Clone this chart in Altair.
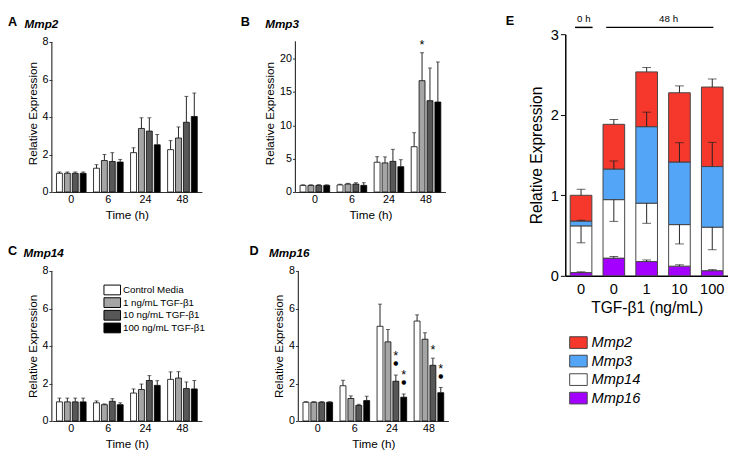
import altair as alt
import pandas as pd

FONT = "Liberation Sans"

# ---------------- Panels A-D : time course ----------------
times = ["0", "6", "24", "48"]
treatments = ["Control Media", "1 ng/mL TGF-β1", "10 ng/mL TGF-β1", "100 ng/mL TGF-β1"]
treatment_colors = ["#ffffff", "#a5a5a5", "#575757", "#000000"]

# rows = time points (0, 6, 24, 48 h); columns = treatments
mmp2_mean = [[1.00, 1.00, 1.00, 1.00], [1.27, 1.68, 1.63, 1.60], [2.10, 3.39, 3.25, 2.52], [2.26, 2.88, 3.72, 4.03]]
mmp2_sem = [[0.07, 0.07, 0.07, 0.07], [0.19, 0.32, 0.47, 0.14], [0.26, 0.57, 0.71, 0.55], [0.48, 0.59, 1.38, 1.25]]
mmp3_mean = [[1.00, 1.00, 1.00, 1.00], [1.07, 1.20, 1.20, 1.00], [4.47, 4.37, 4.60, 3.80], [6.80, 16.70, 13.70, 13.50]]
mmp3_sem = [[0.08, 0.08, 0.10, 0.08], [0.10, 0.10, 0.20, 0.40], [0.83, 0.90, 1.80, 1.05], [2.10, 4.20, 4.90, 6.00]]
mmp14_mean = [[1.02, 1.02, 1.02, 1.02], [0.97, 0.87, 1.05, 0.87], [1.49, 1.68, 2.16, 1.90], [2.22, 2.29, 1.73, 1.71]]
mmp14_sem = [[0.20, 0.20, 0.20, 0.20], [0.10, 0.04, 0.14, 0.10], [0.22, 0.29, 0.26, 0.25], [0.40, 0.34, 0.35, 0.45]]
mmp16_mean = [[1.00, 1.00, 1.00, 1.00], [1.88, 1.20, 0.83, 1.09], [5.05, 4.22, 2.12, 1.27], [5.33, 4.36, 2.97, 1.51]]
mmp16_sem = [[0.03, 0.03, 0.03, 0.03], [0.29, 0.14, 0.06, 0.23], [1.18, 0.66, 0.33, 0.17], [0.33, 0.34, 0.38, 0.28]]

# significance marks: (time, treatment index, star, dot)
mmp3_sig = [("48", 1, True, False)]
mmp16_sig = [("24", 2, True, True), ("24", 3, True, True), ("48", 2, True, False), ("48", 3, True, True)]

# ---------------- Panel E : stacked composition ----------------
doses = ["0", "0 ", "1", "10", "100"]  # first bar = 0 h, others = 48 h
genes = ["Mmp2", "Mmp3", "Mmp14", "Mmp16"]
gene_colors = ["#f5382b", "#52a5f7", "#ffffff", "#a400ff"]
e_values = {
    "Mmp16": [0.04, 0.22, 0.177, 0.12, 0.064],
    "Mmp14": [0.58, 0.726, 0.725, 0.516, 0.54],
    "Mmp3": [0.06, 0.38, 0.95, 0.777, 0.753],
    "Mmp2": [0.32, 0.555, 0.68, 0.86, 0.987],
}
e_errors = {
    "Mmp16": [0.01, 0.02, 0.02, 0.017, 0.013],
    "Mmp14": [-0.21, -0.27, -0.25, -0.24, -0.28],
    "Mmp3": [0.01, 0.10, 0.18, 0.24, 0.30],
    "Mmp2": [0.075, 0.06, 0.055, 0.085, 0.10],
}
stack_order = ["Mmp16", "Mmp14", "Mmp3", "Mmp2"]

AX = "#333333"
H = 154  # plot height of panels A-D (px)


def label_layer(text, dx, dy, size, style="normal", weight="bold"):
    return alt.Chart(pd.DataFrame({"t": [text]})).mark_text(
        align="left", baseline="middle", fontSize=size, fontWeight=weight,
        fontStyle=style, font=FONT, color="black"
    ).encode(text="t:N", x=alt.value(dx), y=alt.value(dy))


def panel(letter, gene, mean, sem, ymax, yticks, axis_top, sig, letter_dx, title_dx,
          ext=0, legend=None):
    rows = []
    for i, t in enumerate(times):
        for j, tr in enumerate(treatments):
            rows.append({"time": t, "treatment": tr, "mean": mean[i][j],
                         "hi": mean[i][j] + sem[i][j], "star": 0, "dot": 0})
    df = pd.DataFrame(rows)
    for (t, j, s, d) in sig:
        m = (df.time == t) & (df.treatment == treatments[j])
        df.loc[m, "star"] = 1 if s else 0
        df.loc[m, "dot"] = 1 if d else 0

    x = alt.X("time:N", sort=times, title="Time (h)",
              scale=alt.Scale(paddingInner=0.2, paddingOuter=0.125),
              axis=alt.Axis(labelAngle=0, ticks=False, labelPadding=2, titlePadding=5,
                            labelFontSize=11, titleFontSize=12, domainColor=AX, domainWidth=1.2))
    xo = alt.XOffset("treatment:N", sort=treatments, scale=alt.Scale(paddingInner=0.25))
    ysc = alt.Scale(domain=[0, ymax * (H + ext) / H], nice=False)
    yax = alt.Axis(values=yticks, tickSize=3, labelPadding=1, titlePadding=3, domain=False,
                   labelFontSize=11, titleFontSize=12, tickColor=AX)

    def Y(f):
        return alt.Y(f, scale=ysc, axis=yax, title="Relative Expression")

    color = alt.Color("treatment:N", sort=treatments,
                      scale=alt.Scale(domain=treatments, range=treatment_colors),
                      legend=legend)
    base = alt.Chart(df)
    bars = base.mark_bar(stroke="black", strokeWidth=0.8).encode(x=x, xOffset=xo, y=Y("mean:Q"), color=color)
    err = base.mark_rule(color="#222222", strokeWidth=1).encode(x=x, xOffset=xo, y=Y("mean:Q"), y2="hi:Q")
    caps = base.mark_tick(color="#222222", thickness=1, size=4).encode(x=x, xOffset=xo, y=Y("hi:Q"))
    yline = alt.Chart(pd.DataFrame({"a": [0]})).mark_rule(color=AX, strokeWidth=1.2).encode(
        x=alt.value(0), y=alt.datum(0, scale=ysc, axis=yax, title="Relative Expression"),
        y2=alt.datum(axis_top))
    layers = [bars, err, caps, yline]
    if sig:
        star_dot = base.transform_filter("datum.star == 1 && datum.dot == 1").mark_text(
            text="*", fontSize=13, font=FONT, dy=-19, color="black").encode(x=x, xOffset=xo, y=Y("hi:Q"))
        star_only = base.transform_filter("datum.star == 1 && datum.dot == 0").mark_text(
            text="*", fontSize=13, font=FONT, dy=-8, color="black").encode(x=x, xOffset=xo, y=Y("hi:Q"))
        dots = base.transform_filter("datum.dot == 1").mark_text(
            text="●", fontSize=6, font="DejaVu Sans", dy=-12, color="black").encode(x=x, xOffset=xo, y=Y("hi:Q"))
        layers += [star_dot, star_only, dots]
    layers += [label_layer(letter, letter_dx, -20 + ext, 13),
               label_layer(gene, title_dx, -18 + ext, 12, style="italic")]
    return alt.layer(*layers).properties(width=154, height=H + ext)


legend_c = alt.Legend(orient="none", legendX=56.5, legendY=14, title=None,
                      symbolType="M-1.7,-1H1.7V1H-1.7Z", symbolSize=100,
                      symbolStrokeColor="black", symbolStrokeWidth=1,
                      labelFontSize=10, labelFont=FONT, labelOffset=5.5, rowPadding=-3,
                      labelColor="black")

pA = panel("A", "Mmp2", mmp2_mean, mmp2_sem, 8, [0, 2, 4, 6, 8], 8, [], -45, -28, ext=8)
pB = panel("B", "Mmp3", mmp3_mean, mmp3_sem, 22.5, [0, 5, 10, 15, 20], 22.6, mmp3_sig, -56, -31, ext=8)
pC = panel("C", "Mmp14", mmp14_mean, mmp14_sem, 8, [0, 2, 4, 6, 8], 8, [], -45, -29, legend=legend_c)
pD = panel("D", "Mmp16", mmp16_mean, mmp16_sem, 8, [0, 2, 4, 6, 8], 8, mmp16_sig, -50, -30)

# ---- Panel E ----
erows = []
for k, d in enumerate(doses):
    b = 0.0
    for g in stack_order:
        v = e_values[g][k]
        top = b + v
        erows.append({"dose": d, "gene": g, "base": b, "top": top, "end": top + e_errors[g][k]})
        b = top
edf = pd.DataFrame(erows)

ex = alt.X("dose:N", sort=doses, title="TGF-β1 (ng/mL)",
           scale=alt.Scale(paddingInner=0.34, paddingOuter=0.15),
           axis=alt.Axis(labelExpr="trim(datum.label)", ticks=False, labelAngle=0, labelFontSize=15,
                         labelPadding=6, titleFontSize=16, titlePadding=4,
                         domainColor="black", domainWidth=1.5))
esc = alt.Scale(domain=[0, 3], nice=False)
eax = alt.Axis(values=[0, 1, 2, 3], tickSize=5, labelFontSize=15, titleFontSize=16,
               labelPadding=2, titlePadding=6, domainColor="black", domainWidth=1.5, tickColor="black")


def EY(f):
    return alt.Y(f, scale=esc, axis=eax, title="Relative Expression")


legend_e = alt.Legend(orient="none", legendX=6, legendY=309, title=None,
                      symbolType="M-1.5,-1H1.5V1H-1.5Z", symbolSize=144,
                      symbolStrokeColor="#444444", symbolStrokeWidth=1,
                      labelFontSize=15, labelFont=FONT, labelFontStyle="italic",
                      labelOffset=6, rowPadding=2, labelColor="black")
ecolor = alt.Color("gene:N", scale=alt.Scale(domain=genes, range=gene_colors), legend=legend_e)
ebase = alt.Chart(edf)
ebars = ebase.mark_bar(stroke="#444444", strokeWidth=1).encode(x=ex, y=EY("top:Q"), y2="base:Q", color=ecolor)
eerr = ebase.mark_rule(color="#222222", strokeWidth=1).encode(x=ex, y=EY("top:Q"), y2="end:Q")
ecaps = ebase.mark_tick(color="#222222", thickness=1, size=9).encode(x=ex, y=EY("end:Q"))

g0 = alt.Chart(pd.DataFrame({"t": ["0 h"]})).mark_text(fontSize=10, font=FONT, color="black").encode(
    text="t:N", x=alt.value(19), y=alt.value(-16))
g48 = alt.Chart(pd.DataFrame({"t": ["48 h"]})).mark_text(fontSize=10, font=FONT, color="black").encode(
    text="t:N", x=alt.value(106), y=alt.value(-16))
l0 = alt.Chart(pd.DataFrame({"t": ["0 h"]})).mark_rule(color="black", strokeWidth=1.5).encode(
    x=alt.value(10), x2=alt.value(28), y=alt.value(-7))
l48 = alt.Chart(pd.DataFrame({"t": ["48 h"]})).mark_rule(color="black", strokeWidth=1.5).encode(
    x=alt.value(42), x2=alt.value(152), y=alt.value(-7))

pE = alt.layer(ebars, eerr, ecaps, g0, g48, l0, l48,
               label_layer("E", -61, -13, 13)).properties(width=167, height=248)

row1 = alt.hconcat(pA, pB, spacing=40).resolve_scale(color="independent")
row2 = alt.hconcat(pC, pD, spacing=44).resolve_scale(color="independent")
left = alt.vconcat(row1, row2, spacing=26).resolve_scale(color="independent")

chart = alt.hconcat(left, pE, spacing=59).resolve_scale(color="independent").properties(
    padding=0
).configure_view(stroke=None).configure_axis(
    grid=False, labelFont=FONT, titleFont=FONT, labelColor="black", titleColor="black",
    titleFontWeight="normal"
)

chart.save("out.html", embed_options={"renderer": "svg", "actions": False})
